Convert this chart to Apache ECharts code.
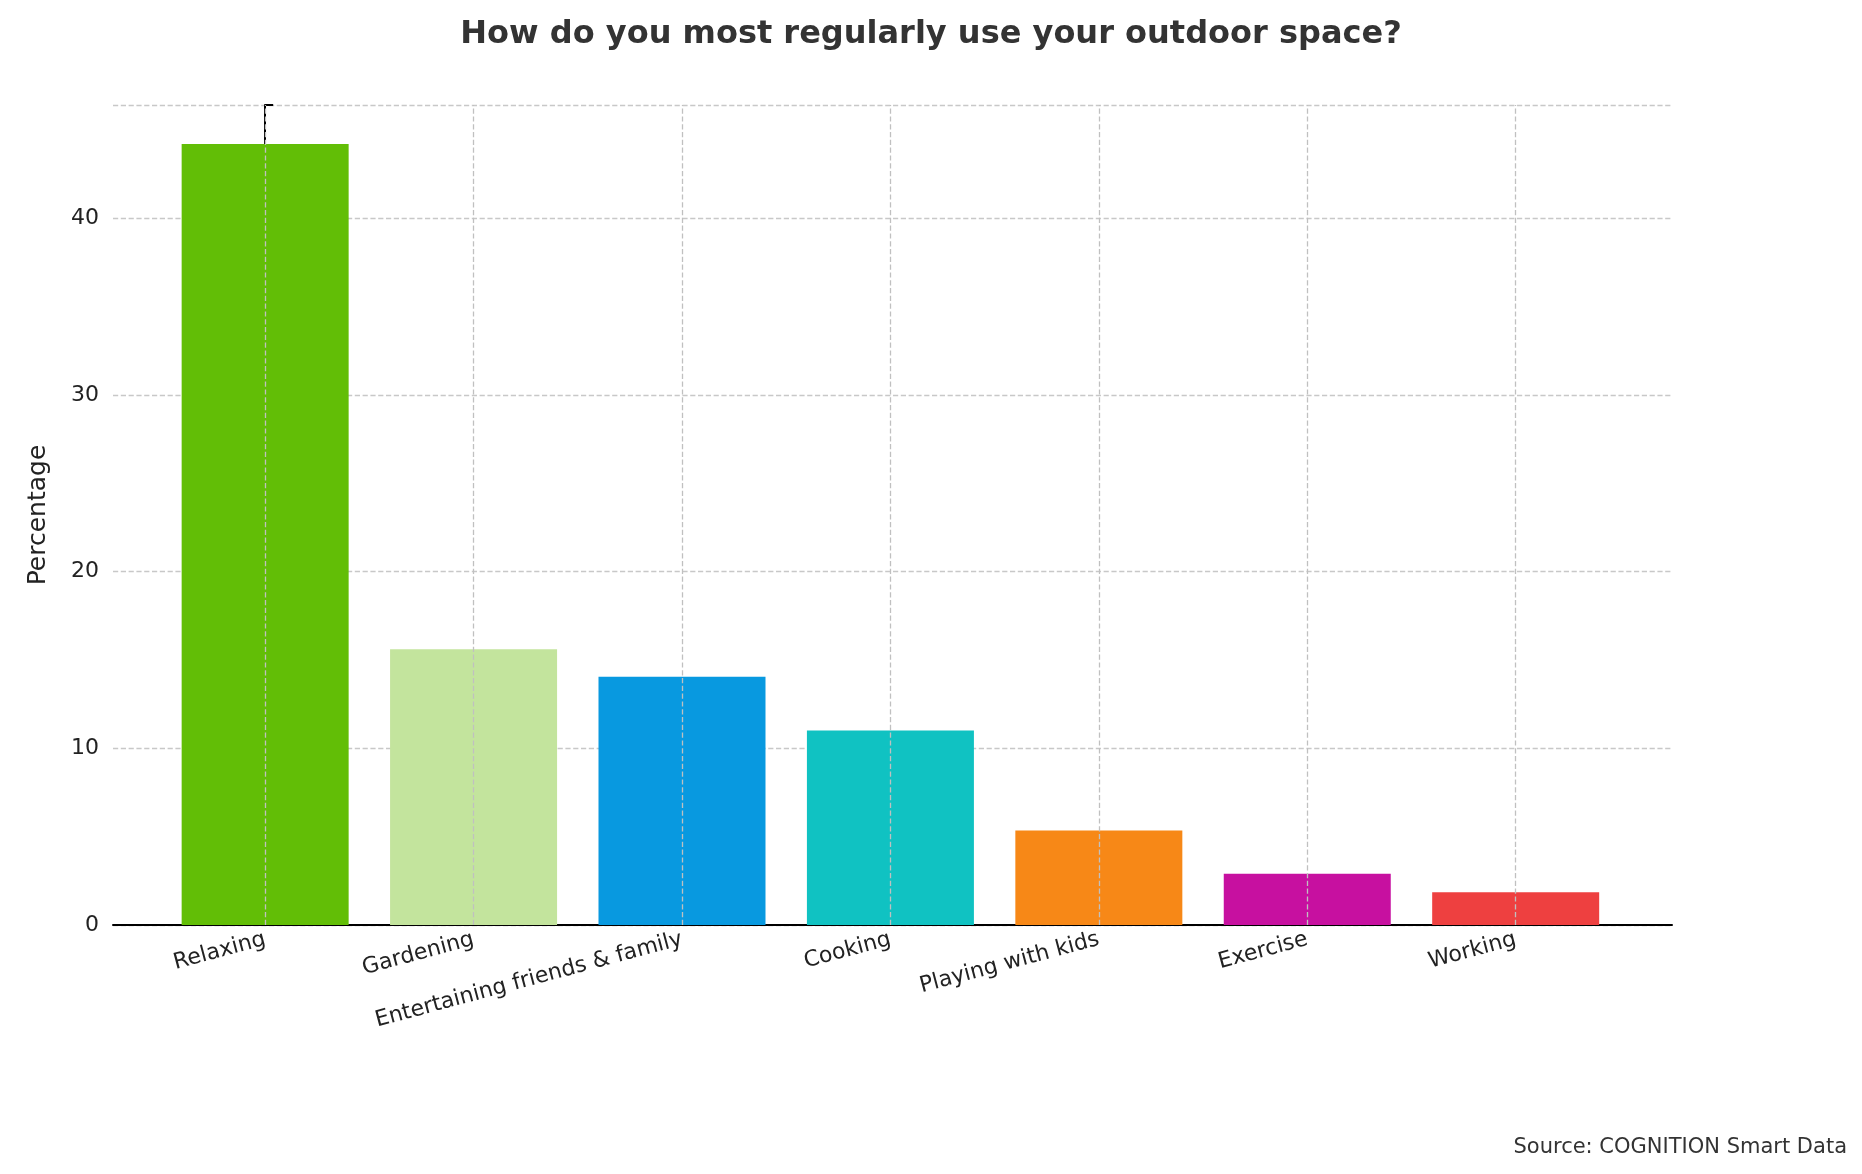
<!DOCTYPE html>
<html><head><meta charset="utf-8">
<script src="https://cdn.jsdelivr.net/npm/echarts@6/dist/echarts.min.js"></script>
<style>html,body{margin:0;background:#fff}#c{width:1862px;height:1174px}</style>
</head><body><div id="c"></div>
<script>
const categories = ["Relaxing","Gardening","Entertaining friends & family","Cooking","Playing with kids","Exercise","Working"];
const values = [44.2, 15.6, 14.05, 11.0, 5.35, 2.9, 1.85];
const colors = ["#62BE06","#C3E49D","#0899E0","#10C2C2","#F78817","#C710A0","#EE4040"];
const yTicks = [0,10,20,30,40];
const idx = categories.map((c,i)=>i);
const chart = echarts.init(document.getElementById('c'));
chart.setOption({
  animation:false,
  title:[{text:"How do you most regularly use your outdoor space?",left:'center',top:14,
    textStyle:{fontFamily:'DejaVu Sans',fontSize:32,fontWeight:'bold',color:'#333'}},
    {text:"Source: COGNITION Smart Data",right:10,top:1132,textStyle:{fontFamily:'DejaVu Sans',fontSize:21,fontWeight:'normal',color:'#333'}}],
  grid:{left:113,right:190,top:105,bottom:249},
  xAxis:{type:'value',min:-0.73,max:6.75,
    axisLine:{lineStyle:{color:'#000',width:2}},
    axisTick:{customValues:idx,length:8,inside:true,lineStyle:{color:'#000',width:2}},
    axisLabel:{customValues:idx,formatter:v=>categories[Math.round(v)],rotate:15,margin:14,
      fontFamily:'DejaVu Sans',fontSize:22,color:'#222'},
    splitLine:{show:false}},
  yAxis:{type:'value',min:0,max:46.4,interval:10,name:'Percentage',nameLocation:'middle',nameGap:62,
    nameTextStyle:{fontFamily:'DejaVu Sans',fontSize:25,color:'#222'},
    axisLine:{show:true,lineStyle:{color:'#000',width:2}},
    axisTick:{show:true,inside:true,length:8,lineStyle:{color:'#000',width:2}},
    axisLabel:{fontFamily:'DejaVu Sans',fontSize:22,color:'#222',margin:14,
      formatter:v=>yTicks.includes(v)?String(v):''},
    splitLine:{lineStyle:{color:'#c8c8c8',type:'dashed',width:1.3}}},
  series:[{type:'bar',barWidth:167,
    data:values.map((v,i)=>({value:[i,v],itemStyle:{color:colors[i]}})),
    markLine:{silent:true,symbol:'none',label:{show:false},z:10,
      lineStyle:{color:'#c0c0c0',type:'dashed',width:1.3},
      data:idx.map(i=>({xAxis:i}))}}]
});
</script></body></html>
